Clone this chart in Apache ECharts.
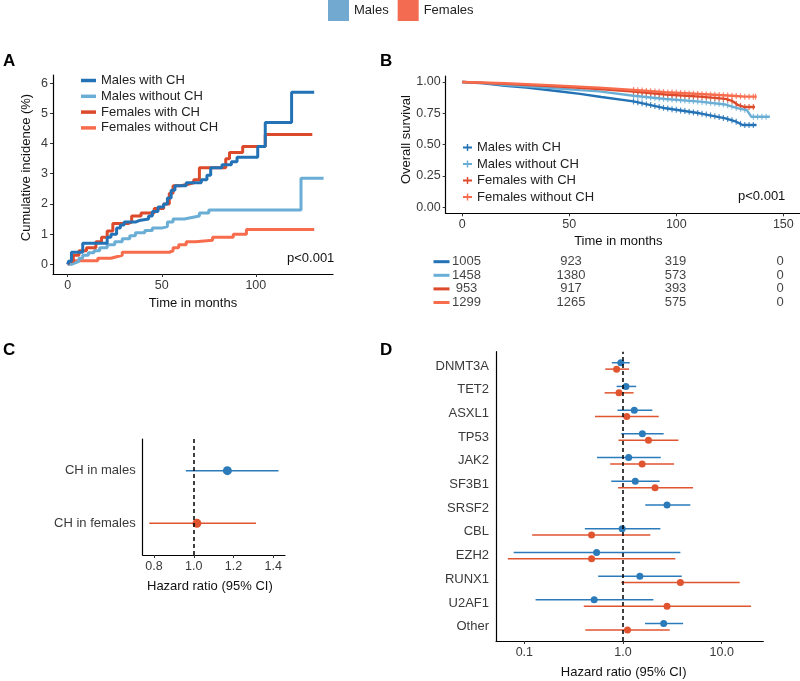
<!DOCTYPE html>
<html><head><meta charset="utf-8">
<script src="https://cdn.jsdelivr.net/npm/echarts@6/dist/echarts.min.js"></script>
<style>html,body{margin:0;padding:0;background:#fff}#c{width:800px;height:681px}</style>
</head><body><div id="c"></div>
<script>
// ---------- Panel A: cumulative incidence (%) step curves [month, %] ----------
const aMalesWithCH = [[0,0],[0.5,0.1],[2,0.4],[8,0.7],[19,0.7],[21,0.9],[23,1.0],[26,1.2],[28,1.3],[30,1.4],[36,1.45],[38,1.5],[43,1.6],[45,1.75],[48,1.9],[51,2.0],[53,2.2],[55,2.45],[57,2.6],[63,2.7],[71,2.8],[74,2.95],[76,3.2],[82,3.3],[87,3.4],[90,3.55],[101,3.9],[105,4.7],[119,5.7],[131,5.7]];
const aMalesWithoutCH = [[0,0],[2,0.05],[4,0.1],[6,0.2],[8,0.3],[11,0.38],[14,0.45],[17,0.55],[21,0.65],[25,0.75],[29,0.85],[33,0.95],[36,1.05],[41,1.12],[45,1.2],[50,1.25],[53,1.4],[56,1.5],[62,1.55],[66,1.6],[70,1.7],[75,1.8],[124,2.85],[136,2.85]];
const aFemalesWithCH = [[0,0],[1,0.1],[3,0.3],[6,0.45],[10,0.55],[15,0.75],[18,0.9],[21,1.1],[24,1.35],[32,1.4],[34,1.6],[39,1.7],[46,1.85],[51,2.0],[54,2.35],[56,2.6],[60,2.65],[64,2.7],[67,2.8],[70,3.2],[78,3.2],[84,3.5],[86,3.7],[93,3.9],[105,4.3],[130,4.3]];
const aFemalesWithoutCH = [[0,0],[1,0.05],[3,0.12],[16,0.2],[23,0.25],[26,0.3],[29,0.4],[54,0.45],[56,0.55],[59,0.65],[63,0.75],[68,0.8],[77,0.9],[88,1.0],[95,1.15],[131,1.15]];
const aTicksX = [0,50,100];
const aTicksY = [0,1,2,3,4,5,6];

// ---------- Panel B: overall survival [month, survival] ----------
const bMalesWithCH = [[0,1],[10,0.99],[20,0.97],[30,0.955],[43,0.93],[55,0.905],[65,0.88],[80,0.845],[95,0.79],[111,0.75],[123,0.71],[128,0.683],[131,0.657],[137.5,0.657]];
const bMalesWithoutCH = [[0,1],[10,0.993],[20,0.976],[30,0.965],[43,0.95],[55,0.935],[64,0.925],[80,0.89],[95,0.864],[111,0.843],[123,0.82],[129,0.79],[133,0.775],[135,0.723],[143.7,0.723]];
const bFemalesWithCH = [[0,1],[20,0.985],[43,0.965],[64,0.944],[80,0.923],[95,0.9],[111,0.883],[123,0.865],[126,0.85],[129,0.815],[132,0.8],[136.8,0.8]];
const bFemalesWithoutCH = [[0,1],[20,0.99],[43,0.973],[64,0.955],[80,0.936],[95,0.918],[111,0.904],[126,0.89],[132,0.883],[137.6,0.883]];
const bCensorMalesWithCH = [80,82,84,86,88,90,92,94,96,98,100,102,104,106,108,110,112,114,116,118,120,122,124,126,128,130,132,134,136];
const bCensorMalesWithoutCH = [80,82,84,86,88,90,92,94,96,98,100,102,104,106,108,110,112,114,116,118,120,122,124,126,128,130,132,136,138,140,142];
const bCensorFemalesWithCH = [80,82,84,86,88,90,92,94,96,98,100,102,104,106,108,110,112,114,116,118,120,122,124,126,128,130,132,134,136];
const bCensorFemalesWithoutCH = [80,82,84,86,88,90,92,94,96,98,100,102,104,106,108,110,112,114,116,118,120,122,124,126,128,130,132,134,136,137];
const bTicksX = [0,50,100,150];
const bTicksY = [0,0.25,0.5,0.75,1.0];
const riskTimes = [0,50,100,150];
const riskMalesWithCH = [1005,923,319,0];
const riskMalesWithoutCH = [1458,1380,573,0];
const riskFemalesWithCH = [953,917,393,0];
const riskFemalesWithoutCH = [1299,1265,575,0];

// ---------- Panel C: hazard ratio ----------
const cCategories = ['CH in males','CH in females'];
const cHR = [1.169,1.016];
const cLow = [0.96,0.776];
const cHigh = [1.426,1.313];
const cTicksX = [0.8,1.0,1.2,1.4];

// ---------- Panel D: hazard ratio by gene ----------
const dGenes = ['DNMT3A','TET2','ASXL1','TP53','JAK2','SF3B1','SRSF2','CBL','EZH2','RUNX1','U2AF1','Other'];
const dMaleHR   = [0.95,1.07,1.30,1.57,1.14,1.33,2.79,0.98,0.54,1.48,0.51,2.58];
const dMaleLow  = [0.77,0.86,0.88,0.96,0.545,0.76,1.68,0.41,0.078,0.56,0.13,1.67];
const dMaleHigh = [1.17,1.36,1.98,2.58,2.41,2.35,4.81,2.39,3.81,3.93,2.03,4.06];
const dFemaleHR   = [0.86,0.91,1.09,1.81,1.56,2.11,null,0.48,0.48,3.81,2.79,1.11];
const dFemaleLow  = [0.66,0.65,0.52,0.90,0.74,0.89,null,0.12,0.068,0.96,0.40,0.415];
const dFemaleHigh = [1.15,1.28,2.30,3.64,3.29,5.12,null,1.89,3.39,15.2,19.8,2.97];
const dTicksX = [0.1,1.0,10.0];
const refHR = 1;

// ---------- styling ----------
const FONT = "'Liberation Sans', Arial, Helvetica, sans-serif";
const COL = {db:'#2372b6', lb:'#6aaed6', dr:'#dc4a2b', lr:'#f86c4e', fb:'#2b7bba', fr:'#e05430', legM:'#72a9d1', legF:'#f36b50'};
const LBL = '#3a3a3a';

function xAx(grid, min, max, ticks, fmt, name, gap, opts) {
  opts = opts || {};
  return {
    type:'value', gridIndex:grid, min:min, max:max, show: opts.show !== false,
    name:name, nameLocation:'middle', nameGap:gap,
    nameTextStyle:{color:'#111', fontSize:13, fontFamily:FONT, padding: opts.namePad || 0},
    axisLine:{show:true, onZero:false, lineStyle:{color:'#000', width:1.2}},
    axisTick:{show:true, length:3, customValues:ticks, lineStyle:{color:'#333', width:1}},
    axisLabel:{customValues:ticks, formatter:fmt, color:LBL, fontSize:12.5, fontFamily:FONT, margin:5},
    splitLine:{show:false}
  };
}
function yAx(grid, min, max, ticks, fmt, name, gap, opts) {
  opts = opts || {};
  return {
    type:'value', gridIndex:grid, min:min, max:max, inverse: !!opts.inverse,
    name:name, nameLocation:'middle', nameGap:gap,
    nameTextStyle:{color:'#111', fontSize:13, fontFamily:FONT, padding: opts.namePad || 0},
    axisLine:{show: opts.line !== false, onZero:false, lineStyle:{color:'#000', width:1.2}},
    axisTick:{show: opts.tick !== false, length:3, customValues:ticks, lineStyle:{color:'#333', width:1}},
    axisLabel:Object.assign({customValues:ticks, formatter:fmt, color:LBL, fontSize:12.5, fontFamily:FONT, margin: opts.margin || 5}, opts.label || {}),
    splitLine:{show:false}
  };
}

function stepAt(curve, t) {
  // value of the piecewise-linear survival curve at time t
  for (let i = 1; i < curve.length; i++) {
    const p0 = curve[i-1], p1 = curve[i];
    if (t <= p1[0]) { const f = (t - p0[0]) / (p1[0] - p0[0]); return p0[1] + f * (p1[1] - p0[1]); }
  }
  return curve[curve.length-1][1];
}

const series = [];
// Panel A lines (drawn bottom to top)
[[aFemalesWithoutCH,'Females without CH',COL.lr],[aMalesWithoutCH,'Males without CH',COL.lb],[aFemalesWithCH,'Females with CH',COL.dr],[aMalesWithCH,'Males with CH',COL.db]].forEach(function(s){
  series.push({type:'line', name:s[1], xAxisIndex:0, yAxisIndex:0, data:s[0], step:'end', showSymbol:false, silent:true,
    lineStyle:{width:3, color:s[2]}, itemStyle:{color:s[2]}});
});
// Panel B curves + censor marks
[[bMalesWithCH,bCensorMalesWithCH,'B|Males with CH',COL.db],[bMalesWithoutCH,bCensorMalesWithoutCH,'B|Males without CH',COL.lb],[bFemalesWithCH,bCensorFemalesWithCH,'B|Females with CH',COL.dr],[bFemalesWithoutCH,bCensorFemalesWithoutCH,'B|Females without CH',COL.lr]].forEach(function(s){
  series.push({type:'line', name:s[2], xAxisIndex:1, yAxisIndex:1, data:s[0], showSymbol:false, silent:true,
    lineStyle:{width:2.4, color:s[3]}, itemStyle:{color:s[3]}});
  series.push({type:'scatter', name:s[2], xAxisIndex:1, yAxisIndex:1, silent:true,
    data:s[1].map(function(t){ return [t, stepAt(s[0], t)]; }),
    symbol:'rect', symbolSize:[1.2,6], itemStyle:{color:s[3]}});
});
// Risk table
[riskMalesWithCH, riskMalesWithoutCH, riskFemalesWithCH, riskFemalesWithoutCH].forEach(function(arr, r){
  series.push({type:'scatter', name:'risk'+r, xAxisIndex:2, yAxisIndex:2, silent:true,
    data:riskTimes.map(function(t,i){ return [t, r+1, arr[i]]; }),
    symbolSize:1, itemStyle:{color:'rgba(0,0,0,0)'},
    label:{show:true, position:'inside', formatter:function(p){return String(p.value[2]);}, color:'#111', fontSize:13, fontFamily:FONT}});
});

function errRender(color, w) {
  return function(params, api) {
    const y = api.value(2);
    const a = api.coord([api.value(0), y]);
    const b = api.coord([api.value(1), y]);
    return {type:'line', shape:{x1:a[0], y1:a[1], x2:b[0], y2:b[1]}, style:{stroke:color, lineWidth:w}};
  };
}
const refLine = function(x){ return {silent:true, symbol:['none','none'], label:{show:false},
  lineStyle:{type:[4,3], color:'#000', width:1.5}, data:[{xAxis:x}]}; };

// Panel C
const cN = cCategories.length;
const cRow = function(i){ return cN - i; };
series.push({type:'custom', name:'Males', xAxisIndex:3, yAxisIndex:3, z:2, silent:true, renderItem:errRender(COL.fb,1.5), encode:{x:[0,1], y:2},
  data:[[cLow[0], cHigh[0], cRow(0)]], markLine:refLine(refHR)});
series.push({type:'custom', name:'Females', xAxisIndex:3, yAxisIndex:3, z:2, silent:true, renderItem:errRender(COL.fr,1.5), encode:{x:[0,1], y:2},
  data:[[cLow[1], cHigh[1], cRow(1)]]});
series.push({type:'scatter', name:'Males', xAxisIndex:3, yAxisIndex:3, z:4, silent:true, data:[[cHR[0], cRow(0)]], symbolSize:9, itemStyle:{color:COL.fb, opacity:1}});
series.push({type:'scatter', name:'Females', xAxisIndex:3, yAxisIndex:3, z:4, silent:true, data:[[cHR[1], cRow(1)]], symbolSize:9, itemStyle:{color:COL.fr, opacity:1}});

// Panel D
const OFF = 0.135;
const dN = dGenes.length;
const mErr = [], fErr = [], mPts = [], fPts = [];
dGenes.forEach(function(g, i){
  const row = dN - i;
  if (dMaleHR[i] != null) { mErr.push([Math.log10(dMaleLow[i]), Math.log10(dMaleHigh[i]), row + OFF]); mPts.push([Math.log10(dMaleHR[i]), row + OFF]); }
  if (dFemaleHR[i] != null) { fErr.push([Math.log10(dFemaleLow[i]), Math.log10(dFemaleHigh[i]), row - OFF]); fPts.push([Math.log10(dFemaleHR[i]), row - OFF]); }
});
series.push({type:'custom', name:'Males', xAxisIndex:4, yAxisIndex:4, z:2, silent:true, renderItem:errRender(COL.fb,1.5), encode:{x:[0,1], y:2}, data:mErr});
series.push({type:'custom', name:'Females', xAxisIndex:4, yAxisIndex:4, z:2, silent:true, renderItem:errRender(COL.fr,1.5), encode:{x:[0,1], y:2}, data:fErr,
  markLine:refLine(Math.log10(refHR))});
series.push({type:'scatter', name:'Males', xAxisIndex:4, yAxisIndex:4, z:4, silent:true, data:mPts, symbolSize:7, itemStyle:{color:COL.fb, opacity:1}});
series.push({type:'scatter', name:'Females', xAxisIndex:4, yAxisIndex:4, z:4, silent:true, data:fPts, symbolSize:7, itemStyle:{color:COL.fr, opacity:1}});

const titleStyle = {fontSize:17, fontWeight:'bold', color:'#000', fontFamily:FONT};
const option = {
  animation:false,
  backgroundColor:'#fff',
  textStyle:{fontFamily:FONT},
  title:[
    {text:'A', left:3, top:53, textStyle:titleStyle, padding:0},
    {text:'B', left:380, top:53, textStyle:titleStyle, padding:0},
    {text:'C', left:3, top:342, textStyle:titleStyle, padding:0},
    {text:'D', left:380, top:342, textStyle:titleStyle, padding:0},
    {text:'p<0.001', left:287, top:252, padding:0, textStyle:{fontSize:13, fontWeight:'normal', color:'#111', fontFamily:FONT}},
    {text:'p<0.001', left:738, top:190, padding:0, textStyle:{fontSize:13, fontWeight:'normal', color:'#111', fontFamily:FONT}}
  ],
  legend:[
    {left:328, top:0, padding:0, selectedMode:false, icon:'rect', itemWidth:21, itemHeight:21, itemGap:9,
      textStyle:{fontSize:13, color:'#222', fontFamily:FONT},
      data:[{name:'Males', itemStyle:{color:COL.legM}}, {name:'Females', itemStyle:{color:COL.legF}}]},
    {left:81, top:73, padding:0, orient:'vertical', selectedMode:false, icon:'rect', itemWidth:15, itemHeight:3.5, itemGap:0.8,
      textStyle:{fontSize:13, color:'#222', lineHeight:15, fontFamily:FONT},
      data:[{name:'Males with CH', itemStyle:{color:COL.db}},{name:'Males without CH', itemStyle:{color:COL.lb}},{name:'Females with CH', itemStyle:{color:COL.dr}},{name:'Females without CH', itemStyle:{color:COL.lr}}]},
    {left:463, top:140, padding:0, orient:'vertical', selectedMode:false,
      icon:'path://M0,4L10,4L10,6L0,6Z M4.2,1L5.8,1L5.8,9L4.2,9Z', itemWidth:9, itemHeight:8, itemGap:1.5,
      formatter:function(n){ return n.replace('B|',''); },
      textStyle:{fontSize:13, color:'#222', lineHeight:15, fontFamily:FONT},
      data:[{name:'B|Males with CH', itemStyle:{color:COL.db}},{name:'B|Males without CH', itemStyle:{color:COL.lb}},{name:'B|Females with CH', itemStyle:{color:COL.dr}},{name:'B|Females without CH', itemStyle:{color:COL.lr}}]}
  ],
  grid:[
    {left:53, top:75, width:280, height:199},
    {left:445.7, top:76, width:354.3, height:137.3},
    {left:466.5, top:254.9, width:313.5, height:54.4},
    {left:142.7, top:439, width:142.3, height:116},
    {left:496, top:351.7, width:267.3, height:289.3}
  ],
  xAxis:[
    xAx(0, -7.8, 141, aTicksX, function(v){return String(v);}, 'Time in months', 23),
    xAx(1, -7.76, 157.8, bTicksX, function(v){return String(v);}, 'Time in months', 22, {namePad:[0,9,0,0]}),
    xAx(2, 0, 150, riskTimes, null, '', 0, {show:false}),
    xAx(3, 0.743, 1.459, cTicksX, function(v){return v.toFixed(1);}, 'Hazard ratio (95% CI)', 25, {namePad:[0,8,0,0]}),
    xAx(4, -1.287, 1.421, dTicksX.map(function(v){return Math.log10(v);}), function(v){return Math.pow(10,v).toFixed(1);}, 'Hazard ratio (95% CI)', 25, {namePad:[0,12,0,0]})
  ],
  yAxis:[
    yAx(0, -0.32, 6.27, aTicksY, function(v){return String(v);}, 'Cumulative incidence (%)', 20, {namePad:[0,0,0,14]}),
    yAx(1, -0.0487, 1.048, bTicksY, function(v){return v.toFixed(2);}, 'Overall survival', 33, {namePad:[0,0,0,10]}),
    yAx(2, 0.5, 4.5, [1,2,3,4], function(v){return '{k'+v+'|}';}, '', 0, {inverse:true, line:false, tick:false, margin:17,
      label:{rich:{k1:{width:16,height:3,backgroundColor:COL.db}, k2:{width:16,height:3,backgroundColor:COL.lb}, k3:{width:16,height:3,backgroundColor:COL.dr}, k4:{width:16,height:3,backgroundColor:COL.lr}}}}),
    yAx(3, 0.4, 2.6, [1,2], function(v){return cCategories[cN - v];}, '', 0, {tick:false, margin:7, label:{fontSize:13}}),
    yAx(4, 0.4, 12.6, dGenes.map(function(g,i){return dN - i;}), function(v){return dGenes[dN - v];}, '', 0, {tick:false, margin:7, label:{fontSize:13}})
  ],
  series:series
};
const chart = echarts.init(document.getElementById('c'));
chart.setOption(option);
</script>
</body></html>
